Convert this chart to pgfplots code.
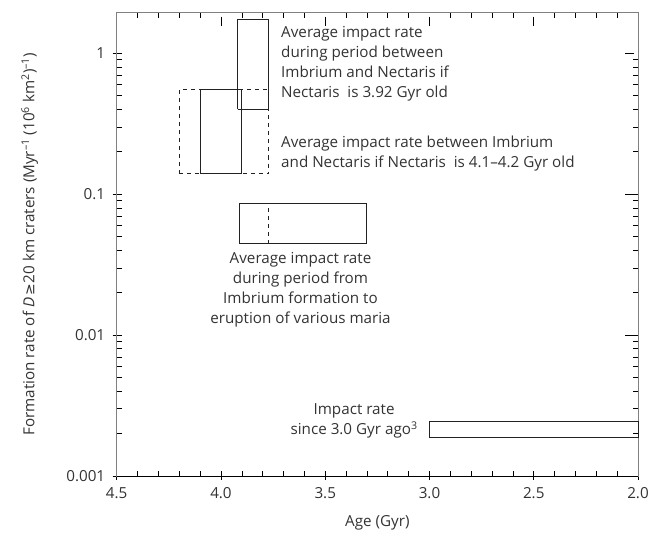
\documentclass[border=0pt]{standalone}
\usepackage{fontspec}
\setmainfont{Open Sans}
\newfontfamily\dejavu{DejaVu Sans}
\usepackage{pgfplots}
\pgfplotsset{compat=1.18}
\definecolor{txt}{HTML}{333333}
\definecolor{spine}{HTML}{808080}
\definecolor{boxc}{HTML}{222222}

\begin{document}
\begin{tikzpicture}[font=\fontsize{15.2bp}{20bp}\selectfont]
\begin{axis}[
  scale only axis, width=521bp, height=463bp,
  x dir=reverse, xmin=2.0, xmax=4.5,
  ymode=log, ymin=0.001, ymax=1.94,
  xtick={2,2.5,3,3.5,4,4.5},
  xticklabels={2.0,2.5,3.0,3.5,4.0,4.5},
  minor x tick num=4,
  ytick={0.001,0.01,0.1,1},
  yticklabels={0.001,0.01,0.1,1},
  tick align=inside,
  major tick length=9bp, minor tick length=5bp,
  every major x tick/.append style={yshift=-4bp},
  every major y tick/.append style={xshift=-4bp},
  tick style={black, line width=0.6pt},
  axis line style={spine, line width=0.8pt},
  ticklabel style={txt},
  xticklabel style={yshift=-8bp},
  yticklabel style={xshift=-8bp},
  label style={txt},
  /pgf/number format/assume math mode=true,
  xlabel={Age (Gyr)},
  xlabel style={at={(axis description cs:0.5,-0.101)}, anchor=center},
  ylabel={Formation rate of \textit{D}\,{\dejavu\fontsize{14bp}{16bp}\selectfont ≥}20 km craters (Myr\textsuperscript{–1} (10\textsuperscript{6} km\textsuperscript{2})\textsuperscript{–1})},
  ylabel style={at={(axis description cs:-0.167,0.5)}, anchor=center},
  clip=false,
]
% boxes
\addplot[boxc, line width=0.9pt, dash pattern=on 4bp off 4bp] coordinates {
  (4.2,0.14) (4.2,0.555) (3.77,0.555) (3.77,0.14) (4.2,0.14)};
\addplot[boxc, line width=0.9pt] coordinates {
  (4.1,0.14) (4.1,0.555) (3.90,0.555) (3.90,0.14) (4.1,0.14)};
\addplot[boxc, line width=0.9pt] coordinates {
  (3.92,0.40) (3.92,1.75) (3.77,1.75) (3.77,0.40) (3.92,0.40)};
\addplot[boxc, line width=0.9pt] coordinates {
  (3.91,0.0446) (3.91,0.0859) (3.3,0.0859) (3.3,0.0446) (3.91,0.0446)};
\addplot[boxc, line width=0.9pt, dash pattern=on 4bp off 4bp] coordinates {
  (3.77,0.0446) (3.77,0.0859)};
\addplot[boxc, line width=0.9pt] coordinates {
  (3.0,0.00188) (3.0,0.00245) (2.0,0.00245) (2.0,0.00188) (3.0,0.00188)};
% bottom spine in black
\draw[black, line width=0.8pt] (axis description cs:0,0) -- (axis description cs:1,0);
% annotations
\node[txt, align=left, anchor=north west, inner sep=0pt] at (axis description cs:0.3152,0.9719)
  {Average impact rate\\during period between\\Imbrium and Nectaris if\\Nectaris\ \ is 3.92 Gyr old};
\node[txt, align=left, anchor=north west, inner sep=0pt] at (axis description cs:0.3152,0.7341)
  {Average impact rate between Imbrium\\and Nectaris if Nectaris\ \ is 4.1–4.2 Gyr old};
\node[txt, align=center, anchor=north, inner sep=0pt] at (axis description cs:0.3526,0.4827)
  {Average impact rate\\during period from\\Imbrium formation to\\eruption of various maria};
\node[txt, align=center, anchor=north, inner sep=0pt] at (axis description cs:0.4554,0.1556)
  {Impact rate\\since 3.0 Gyr ago\textsuperscript{3}};
\path (axis description cs:-0.2239,-0.1312) rectangle (axis description cs:1.0422,1.0275);
\end{axis}
\end{tikzpicture}
\end{document}
